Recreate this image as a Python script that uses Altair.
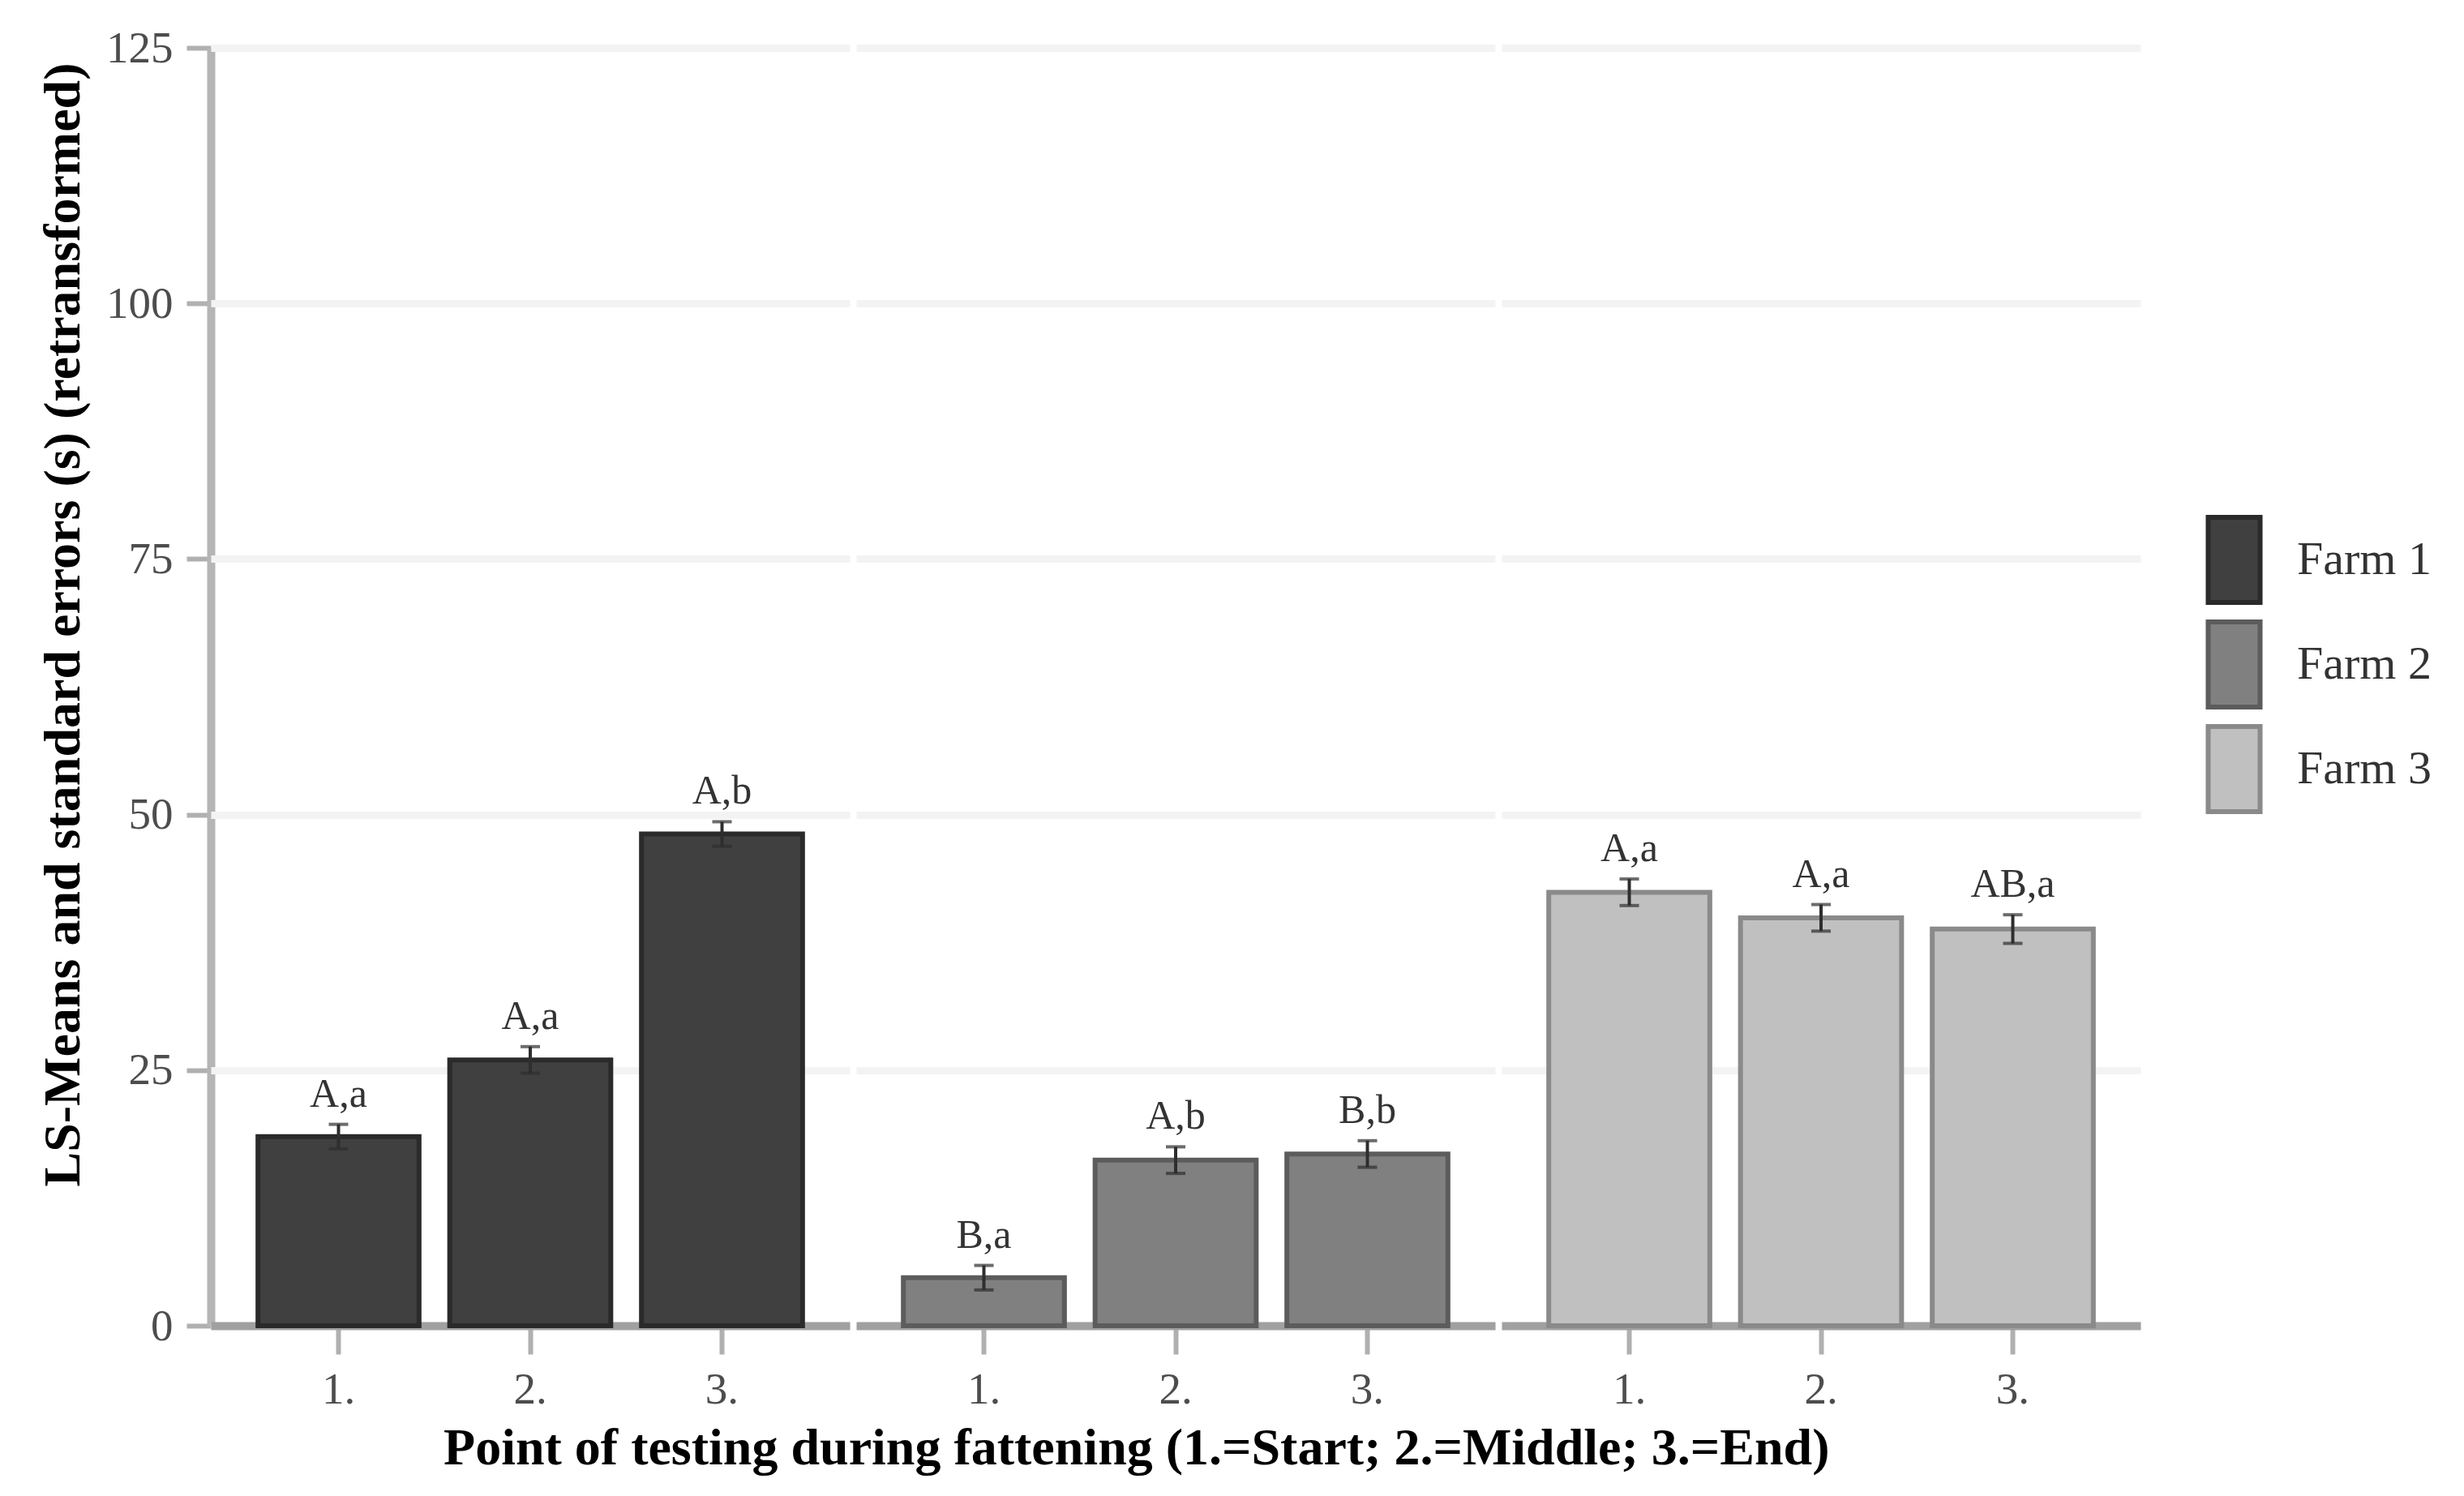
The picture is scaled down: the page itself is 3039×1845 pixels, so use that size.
import altair as alt
import pandas as pd

farms = ["Farm 1", "Farm 2", "Farm 3"]
points = ["1.", "2.", "3."]
means = [[18.5, 26.0, 48.1], [4.7, 16.2, 16.8], [42.4, 39.9, 38.8]]
ses = [[1.2, 1.3, 1.2], [1.2, 1.3, 1.3], [1.3, 1.3, 1.4]]
letters = [["A,a", "A,a", "A,b"], ["B,a", "A,b", "B,b"], ["A,a", "A,a", "AB,a"]]
fills = ["#404040", "#808080", "#c0c0c0"]
strokes = ["#2a2a2a", "#5c5c5c", "#8a8a8a"]

rows = []
for i, f in enumerate(farms):
    for j, p in enumerate(points):
        rows.append(dict(farm=f, point=p, mean=means[i][j],
                         lo=means[i][j] - ses[i][j], hi=means[i][j] + ses[i][j],
                         label=letters[i][j]))
df = pd.DataFrame(rows)

FONT = "Liberation Serif"

x = alt.X("point:N", title=None, sort=points,
          scale=alt.Scale(paddingInner=0.16, paddingOuter=0.246),
          axis=alt.Axis(labelAngle=0))
yscale = alt.Scale(domain=[0, 125], nice=False)
y = alt.Y("mean:Q", scale=yscale,
          title="LS-Means and standard errors (s) (retransformed)",
          axis=alt.Axis(values=[0, 25, 50, 75, 100, 125], titleY=711))

leg = alt.Legend(title=None, orient="none", legendX=2440, legendY=576,
                 symbolType="M-0.61,-1H0.61V1H-0.61Z", symbolSize=11025,
                 symbolStrokeWidth=6, labelFont=FONT, labelFontSize=58,
                 labelColor="#333333", labelOffset=22, rowPadding=0,
                 labelLimit=0, padding=0)

bars = alt.Chart().mark_bar(strokeWidth=6).encode(
    x=x, y=y,
    color=alt.Color("farm:N", scale=alt.Scale(domain=farms, range=fills), legend=leg),
    stroke=alt.Stroke("farm:N", scale=alt.Scale(domain=farms, range=strokes), legend=leg),
)

rule = alt.Chart().mark_rule(color="#2e2e2e", strokeWidth=4).encode(
    x=x, y=alt.Y("lo:Q", scale=yscale), y2="hi:Q")
cap_lo = alt.Chart().mark_tick(color="#2e2e2e", thickness=4, size=24).encode(
    x=x, y=alt.Y("lo:Q", scale=yscale))
cap_hi = alt.Chart().mark_tick(color="#2e2e2e", thickness=4, size=24).encode(
    x=x, y=alt.Y("hi:Q", scale=yscale))
text = alt.Chart().mark_text(font=FONT, fontSize=50, color="#333333",
                             baseline="alphabetic", dy=-22).encode(
    x=x, y=alt.Y("hi:Q", scale=yscale), text="label:N")

layered = alt.layer(bars, rule, cap_lo, cap_hi, text, data=df).properties(
    width=788, height=1576)

chart = layered.facet(
    column=alt.Column("farm:N", sort=farms, title=None,
                      header=alt.Header(labels=False)),
    spacing=8,
).resolve_scale(x="independent").properties(
    padding={"left": 38, "top": 24, "right": 10, "bottom": 10},
    title=alt.TitleParams(
        "Point of testing during fattening (1.=Start; 2.=Middle; 3.=End)",
        orient="bottom", anchor="middle", frame="bounds", dx=-121, offset=14,
        font=FONT, fontSize=64, fontWeight="bold", color="black"),
).configure_view(stroke=None).configure_axis(
    labelFont=FONT, labelFontSize=55, labelColor="#4d4d4d",
    titleFont=FONT, titleFontSize=64, titleFontWeight="bold", titleColor="black",
    domainColor="#b5b5b5", domainWidth=10, tickColor="#b0b0b0", tickWidth=6,
    gridColor="#f3f3f3", gridWidth=9,
).configure_axisX(
    grid=False, domainColor="#a0a0a0", tickSize=35, labelPadding=17,
).configure_axisY(
    tickSize=30, labelPadding=17, titlePadding=20,
)

chart.save("out.html", embed_options={"renderer": "svg", "actions": False})
